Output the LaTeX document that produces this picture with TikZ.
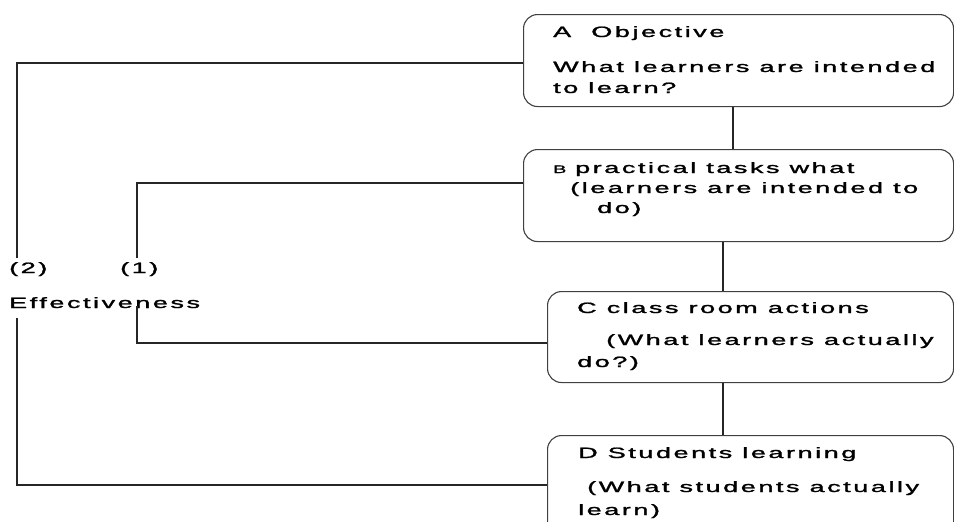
\documentclass[tikz,border=0pt]{standalone}
\usepackage{fontspec}
\newfontfamily\bodyfont{Liberation Sans}[LetterSpace=9.5,FakeBold=1.3]
\newcommand\widetext[1]{\scalebox{1.8}[1]{#1}}
\begin{document}
\begin{tikzpicture}[x=1pt,y=-1pt,
  box/.style={draw=black!75, line width=1.1pt, rounded corners=14pt, anchor=north west, inner sep=0pt},
  link/.style={draw=black!85, line width=1.1pt},
  txt/.style={anchor=base west, inner sep=0pt, font=\bodyfont\fontsize{15pt}{18pt}\selectfont},
  smalltxt/.style={anchor=base west, inner sep=0pt, font=\bodyfont\fontsize{11pt}{13pt}\selectfont}]
\clip (0,0) rectangle (954,522);
\useasboundingbox (0,0) rectangle (954,522);

% boxes
\node[box, minimum width=430pt, minimum height=92pt] (A) at (523,14) {};
\node[box, minimum width=430pt, minimum height=92pt] (B) at (523,149) {};
\node[box, minimum width=406pt, minimum height=91pt] (C) at (547,291) {};
\node[box, minimum width=406pt, minimum height=105pt] (D) at (547,435) {};

% box texts
\node[txt] (a1) at (553,37) {\widetext{A\ \ Objective}};
\node[txt] (a2) at (553,72) {\widetext{What learners are intended}};
\node[txt] (a3) at (553,93) {\widetext{to learn?}};

\node[smalltxt] (b0) at (553,173) {\widetext{B}};
\node[txt] (b1) at (575,173) {\widetext{practical tasks what}};
\node[txt] (b2) at (570,193) {\widetext{(learners are intended to}};
\node[txt] (b3) at (597,213) {\widetext{do)}};

\node[txt] (c1) at (577,313) {\widetext{C class room actions}};
\node[txt] (c2) at (606,345) {\widetext{(What learners actually}};
\node[txt] (c3) at (577,367) {\widetext{do?)}};

\node[txt] (d1) at (578,458) {\widetext{D Students learning}};
\node[txt] (d2) at (587,492) {\widetext{(What students actually}};
\node[txt] (d3) at (578,515) {\widetext{learn)}};

% side labels
\node[txt] (lab2) at (9,273) {\widetext{(2)}};
\node[txt] (lab1) at (120,273) {\widetext{(1)}};
\node[txt] (eff) at (9,308) {\widetext{Effectiveness}};

% chain between the boxes
\draw[link] (A.south -| 733,0) -- (B.north -| 733,0);
\draw[link] (B.south -| 723,0) -- (C.north -| 723,0);
\draw[link] (C.south -| 723,0) -- (D.north -| 723,0);

% loop (2): objective to learning
\coordinate (p2top) at (17,258);
\coordinate (p2bot) at (17,318);
\draw[link] (A.west |- 0,63) -| (p2top);
\draw[link] (p2bot) |- (D.west |- 0,485);

% loop (1): tasks to classroom actions
\coordinate (p1top) at (137,258);
\coordinate (p1bot) at (137,306);
\draw[link] (B.west |- 0,183) -| (p1top);
\draw[link] (p1bot) |- (C.west |- 0,343);
\end{tikzpicture}
\end{document}
